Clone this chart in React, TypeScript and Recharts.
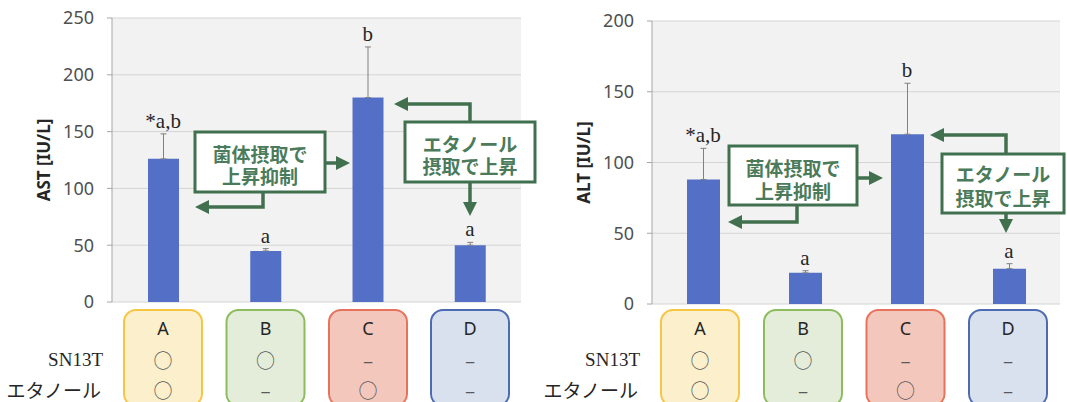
import React from 'react';
import { ComposedChart, Bar, Line, XAxis, YAxis, CartesianGrid, ErrorBar, LabelList } from 'recharts';

// groups
const categories = ['A', 'B', 'C', 'D'];
// AST [IU/L]
const astMean = [126, 45, 180, 50];
const astErr = [22, 2, 44.5, 2.5];
// ALT [IU/L]
const altMean = [88, 22, 120, 25];
const altErr = [22, 1.5, 36, 3.5];
// significance letters
const sigLabels = ['*a,b', 'a', 'b', 'a'];
// intake table
const sn13tRow = ['○', '○', '–', '–'];
const ethanolRow = ['○', '–', '○', '–'];

const boxFill = ['#fbf0cb', '#e3edd9', '#f4c7bd', '#d9e0ee'];
const boxStroke = ['#f5c644', '#8cbc5e', '#e8735c', '#4d6bb3'];

const GREEN = '#41704f';
const GREEN_TXT = '#4b7b5a';
const BAR = '#5470c6';
const SANS = "'Noto Sans', sans-serif";
const CJK = "'Noto Sans CJK JP', sans-serif";
const SERIF = "'Liberation Serif', serif";

const makeData = (mean: number[], err: number[]) =>
  categories.map((c, i) => ({
    name: c,
    mean: mean[i],
    range: [0, err[i]],
    top: mean[i] + err[i],
    sig: sigLabels[i],
  }));

const astData = makeData(astMean, astErr);
const altData = makeData(altMean, altErr);

interface ChartProps {
  data: any[];
  max: number;
  label: string;
  top: number;
  right: number;
  bottom: number;
  barSize: number;
}

const Chart = ({ data, max, label, top, right, bottom, barSize }: ChartProps) => {
  const ticks = [];
  for (let v = 0; v <= max; v += 50) ticks.push(v);
  return (
    <ComposedChart width={540} height={322} data={data} margin={{ top, right, bottom, left: 0 }}>
      <CartesianGrid vertical={false} fill="#f2f2f2" stroke="#d4d4d4" />
      <XAxis dataKey="name" height={0} tick={false} tickLine={false} axisLine={{ stroke: '#808080' }} />
      <YAxis
        domain={[0, max]}
        ticks={ticks}
        interval={0}
        width={112}
        tickSize={5}
        tickMargin={13}
        axisLine={{ stroke: '#a6a6a6' }}
        tickLine={{ stroke: '#a6a6a6' }}
        tick={{ fill: '#505050', fontSize: 18, fontFamily: SANS }}
        label={{
          value: label,
          angle: -90,
          position: 'insideLeft',
          offset: 44,
          style: { textAnchor: 'middle', fontWeight: 700, fontSize: 17, fill: '#262626', fontFamily: SANS },
        }}
      />
      <Bar dataKey="mean" fill={BAR} barSize={barSize} isAnimationActive={false}>
        <ErrorBar dataKey="range" direction="y" width={3} stroke="#808080" strokeWidth={1} />
      </Bar>
      <Line dataKey="top" stroke="none" dot={false} activeDot={false} isAnimationActive={false} legendType="none">
        <LabelList dataKey="sig" position="top" offset={6} fill="#262626" fontSize={21} fontFamily={SERIF} />
      </Line>
    </ComposedChart>
  );
};

const Arrow = ({ pts }: { pts: number[][] }) => {
  const n = pts.length;
  const [x1, y1] = pts[n - 2];
  const [x2, y2] = pts[n - 1];
  const dx = Math.sign(x2 - x1);
  const dy = Math.sign(y2 - y1);
  const L = 14;
  const w = 7;
  const bx = x2 - dx * L;
  const by = y2 - dy * L;
  const line = [...pts.slice(0, n - 1), [bx, by]].map((p) => p.join(',')).join(' ');
  const head = `${x2},${y2} ${bx - dy * w},${by + dx * w} ${bx + dy * w},${by - dx * w}`;
  return (
    <g>
      <polyline points={line} fill="none" stroke={GREEN} strokeWidth={3.5} />
      <polygon points={head} fill={GREEN} />
    </g>
  );
};

const Note = ({ x, y, w, h, lines, ly }: { x: number; y: number; w: number; h: number; lines: string[]; ly: number[] }) => (
  <g>
    <rect x={x} y={y} width={w} height={h} fill="#fff" stroke={GREEN} strokeWidth={3} />
    {lines.map((t, i) => (
      <text key={i} x={x + w / 2} y={ly[i]} textAnchor="middle" dominantBaseline="central"
        fill={GREEN_TXT} fontSize={19} fontWeight={700} fontFamily={CJK}>
        {t}
      </text>
    ))}
  </g>
);

const GroupTable = ({ centers, labelX }: { centers: number[]; labelX: number }) => (
  <g>
    <text x={labelX} y={359} textAnchor="end" dominantBaseline="central" fontSize={19} fontFamily={SERIF} fill="#262626">
      SN13T
    </text>
    <text x={labelX - 2} y={389} textAnchor="end" dominantBaseline="central" fontSize={19} fontFamily={CJK} fill="#262626">
      エタノール
    </text>
    {centers.map((cx, i) => (
      <g key={i}>
        <rect x={cx - 39} y={310} width={78} height={96} rx={12} ry={12}
          fill={boxFill[i]} stroke={boxStroke[i]} strokeWidth={2} />
        <text x={cx} y={328} textAnchor="middle" dominantBaseline="central" fontSize={18} fontFamily={SANS} fill="#262626">
          {categories[i]}
        </text>
        <text x={cx} y={359} textAnchor="middle" dominantBaseline="central" fontSize={19} fontFamily={CJK} fill="#595959">
          {sn13tRow[i]}
        </text>
        <text x={cx} y={389} textAnchor="middle" dominantBaseline="central" fontSize={19} fontFamily={CJK} fill="#595959">
          {ethanolRow[i]}
        </text>
      </g>
    ))}
  </g>
);

const App = () => {
  const leftCenters = [163, 265.5, 368, 470];
  const rightCenters = [700, 803, 905.5, 1008];
  return (
    <div style={{ position: 'absolute', left: 0, top: 0, width: 1067, height: 402, background: '#fff', overflow: 'hidden' }}>
      <div style={{ position: 'absolute', left: 0, top: 0 }}>
        <Chart data={astData} max={250} label="AST [IU/L]" top={18} right={19} bottom={20} barSize={31} />
      </div>
      <div style={{ position: 'absolute', left: 540, top: 0 }}>
        <Chart data={altData} max={200} label="ALT [IU/L]" top={21} right={20} bottom={18} barSize={33} />
      </div>
      <svg width={1067} height={402} style={{ position: 'absolute', left: 0, top: 0, pointerEvents: 'none' }}>
        {/* left annotations */}
        <Arrow pts={[[325, 163], [350, 163]]} />
        <Arrow pts={[[263, 192], [263, 207], [195, 207]]} />
        <Note x={195} y={132} w={130} h={60} lines={['菌体摂取で', '上昇抑制']} ly={[153, 175]} />
        <Arrow pts={[[470, 122], [470, 104], [394, 104]]} />
        <Arrow pts={[[470, 182], [470, 216]]} />
        <Note x={405} y={122} w={130} h={60} lines={['エタノール', '摂取で上昇']} ly={[143, 165]} />
        {/* right annotations */}
        <Arrow pts={[[857, 178], [883, 178]]} />
        <Arrow pts={[[797, 205], [797, 222], [728, 222]]} />
        <Note x={729} y={146} w={128} h={59} lines={['菌体摂取で', '上昇抑制']} ly={[167, 190]} />
        <Arrow pts={[[1006, 154], [1006, 135], [930, 135]]} />
        <Arrow pts={[[1006, 213], [1006, 233]]} />
        <Note x={942} y={154} w={122} h={59} lines={['エタノール', '摂取で上昇']} ly={[173, 197]} />
        <GroupTable centers={leftCenters} labelX={103} />
        <GroupTable centers={rightCenters} labelX={640} />
      </svg>
    </div>
  );
};

export default App;
